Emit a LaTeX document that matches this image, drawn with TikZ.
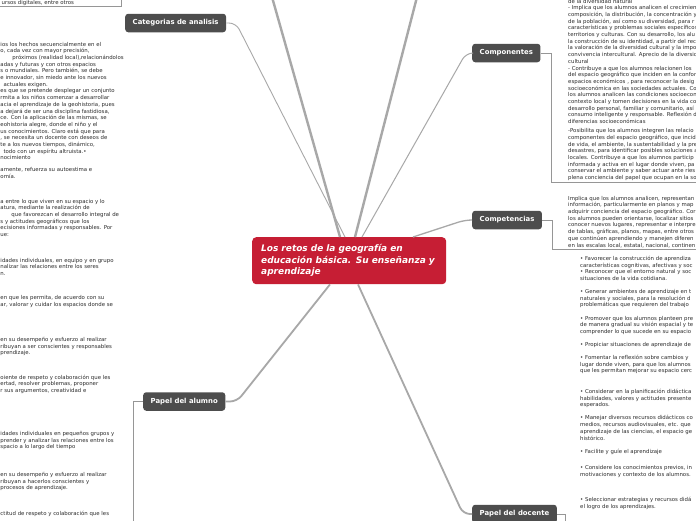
\documentclass[tikz,border=0pt]{standalone}
\usepackage{fontspec}
\setmainfont{DejaVu Sans}
\usetikzlibrary{calc}
\definecolor{centerc}{RGB}{198,30,52}
\definecolor{branchc}{RGB}{77,77,77}
\definecolor{linec}{RGB}{168,168,168}
\definecolor{txtc}{RGB}{45,45,45}
\definecolor{brackc}{RGB}{150,150,150}
\begin{document}
\begin{tikzpicture}[x=1pt,y=-1pt,
 txt/.style={anchor=north west,inner sep=0pt,align=left,text=txtc,font=\fontsize{5.4}{6.7}\selectfont},
 branch/.style={anchor=west,fill=branchc,text=white,rounded corners=3pt,inner xsep=7.5pt,inner ysep=0pt,minimum height=18.5pt,font=\fontsize{6.9}{8}\selectfont\bfseries},
 mainline/.style={draw=linec,line width=2.4pt},
 subline/.style={draw=linec,line width=1.1pt,rounded corners=7pt},
 brack/.style={draw=brackc,line width=0.7pt}]
\useasboundingbox (0,0) rectangle (696,520);
\fill[white] (0,0) rectangle (696,520);
\clip (0,0) rectangle (696,520);

% central node
\node[anchor=north west,fill=centerc,rounded corners=4pt,minimum width=194pt,minimum height=47pt,
  inner xsep=9pt,inner ysep=2pt,text width=176pt,align=left,text=white,
  font=\fontsize{9}{11.5}\selectfont\bfseries\itshape] (ctr) at (252,237)
  {\mbox{Los retos de la geografía en}\\\mbox{educación básica. Su enseñanza y}\\\mbox{aprendizaje}};

% branch nodes
\node[branch] (cat) at (125,23) {Categorias de analisis};
\node[branch] (comp) at (472,53) {Componentes};
\node[branch] (compt) at (472,220) {Competencias};
\node[branch] (alum) at (143,401.5) {Papel del alumno};
\node[branch] (doc) at (472,514) {Papel del docente};

% main connectors
\coordinate (up1) at (272,-3);
\coordinate (up2) at (417,-3);
\draw[mainline] ([xshift=88pt]ctr.north west) -- (up1);
\draw[mainline] ([xshift=103pt]ctr.north west) -- (up2);
\draw[subline,line width=0.9pt] ([xshift=93pt]ctr.north west) -- (236,23) -- (cat.east);
\draw[subline,line width=1pt] ([xshift=110pt]ctr.north west) -- (466,53) -- (comp.west);
\draw[subline,line width=1.3pt] ([xshift=161pt]ctr.north west) -- (465,220) -- (compt.west);
\draw[subline,line width=1.8pt] ([xshift=78pt]ctr.south west) -- (237,401.5) -- (alum.east);
\draw[subline,line width=1.8pt] ([xshift=106pt]ctr.south west) -- (463,514) -- (doc.west);

% text blocks, left
\node[txt] (ltop) at (1.5,-0.6) {\strut ursos digitales, entre otros};
\draw[brack] (-1,6) -- (121,6) -- (121,-1);

\node[txt] (l1) at (0.3,41.2) {\strut ios los hechos secuencialmente en el\\
o, cada vez con mayor precisión,\\
\hspace*{12pt}próximos (realidad local),relacionándolos\\
adas y futuras y con otros espacios\\
s o mundiales. Pero también, se debe\\
e innovador, sin miedo ante los nuevos\\
\hspace*{3pt}actuales exigen.\\
es que se pretende desplegar un conjunto\\
rmita a los niños comenzar a desarrollar\\
acia el aprendizaje de la geohistoria, pues\\
a dejará de ser una disciplina fastidiosa,\\
ce. Con la aplicación de las mismas, se\\
eohistoria alegre, donde el niño y el\\
us conocimientos. Claro está que para\\
, se necesita un docente con deseos de\\
te a los nuevos tiempos, dinámico,\\
\hspace*{3pt}todo con un espíritu altruista.•\\
nocimiento};

\node[txt] (l2) at (0.3,166.7) {\strut amente, refuerza su autoestima e\\
omía.};

\node[txt] (l3) at (0.3,198.2) {\strut a entre lo que viven en su espacio y lo\\
atura, mediante la realización de\\
\hspace*{11pt}que favorezcan el desarrollo integral de\\
s y actitudes geográficos que los\\
ecisiones informadas y responsables. Por\\
ue:};

\node[txt] (l4) at (0.3,257.2) {\strut idades individuales, en equipo y en grupo\\
nalizar las relaciones entre los seres\\
n.};

\node[txt] (l5) at (0.3,294.7) {\strut en que les permita, de acuerdo con su\\
ar, valorar y cuidar los espacios donde se};

\node[txt] (l6) at (0.3,336.7) {\strut en su desempeño y esfuerzo al realizar\\
ribuyan a ser conscientes y responsables\\
prendizaje.};

\node[txt] (l7) at (0.3,374.2) {\strut oiente de respeto y colaboración que les\\
ertad, resolver problemas, proponer\\
r sus argumentos, creatividad e};

\node[txt] (l8) at (0.3,430.7) {\strut idades individuales en pequeños grupos y\\
prender y analizar las relaciones entre los\\
spacio a lo largo del tiempo};

\node[txt] (l9) at (0.3,471.7) {\strut en su desempeño y esfuerzo al realizar\\
ribuyan a hacerlos conscientes y\\
procesos de aprendizaje.};

\node[txt] (l10) at (0.3,510.7) {\strut ctitud de respeto y colaboración que les};

% text blocks, right
\node[txt] (ra) at (568,-1.8) {\strut de la diversidad natural\\
- Implica que los alumnos analicen el crecimien\\
composición, la distribución, la concentración y\\
de la población, así como su diversidad, para r\\
características y problemas sociales específicos\\
territorios y culturas. Con su desarrollo, los alu\\
la construcción de su identidad, a partir del rec\\
la valoración de la diversidad cultural y la impo\\
convivencia intercultural. Aprecio de la diversid\\
cultural\\
- Contribuye a que los alumnos relacionen los\\
del espacio geográfico que inciden en la confor\\
espacios económicos , para reconocer la desig\\
socioeconómica en las sociedades actuales. Co\\
los alumnos analicen las condiciones socioecon\\
contexto local y tomen decisiones en la vida co\\
desarrollo personal, familiar y comunitario, así\\
consumo inteligente y responsable. Reflexión d\\
diferencias socioeconómicas};

\node[txt] (rb) at (568,127.8) {\strut -Posibilita que los alumnos integren las relacio\\
componentes del espacio geográfico, que incid\\
de vida, el ambiente, la sustentabilidad y la pre\\
desastres, para identificar posibles soluciones a\\
locales. Contribuye a que los alumnos particip\\
informada y activa en el lugar donde viven, pa\\
conservar el ambiente y saber actuar ante ries\\
plena conciencia del papel que ocupan en la so};
\coordinate (rbu) at (551,182);
\draw[brack] (comp.east) -- (rbu |- comp.east) -- (rbu) -- (697,182);

\node[txt] (rc) at (568,195.3) {\strut Implica que los alumnos analicen, representan\\
información, particularmente en planos y map\\
adquirir conciencia del espacio geográfico. Cor\\
los alumnos pueden orientarse, localizar sitios\\
conocer nuevos lugares, representar e interpre\\
de tablas, gráficas, planos, mapas, entre otros\\
que continúen aprendiendo y manejen diferen\\
en las escalas local, estatal, nacional, continen};
\coordinate (rcu) at (552,249.5);
\draw[brack] (compt.east) -- (rcu |- compt.east) -- (rcu) -- (697,249.5);

\node[txt] (d1) at (580,255.7) {\strut • Favorecer la construcción de aprendiza\\
características cognitivas, afectivas y soc\\
• Reconocer que el entorno natural y soc\\
situaciones de la vida cotidiana.};
\node[txt] (d2) at (580,288.7) {\strut • Generar ambientes de aprendizaje en t\\
naturales y sociales, para la resolución d\\
problemáticas que requieren del trabajo};
\node[txt] (d3) at (580,315.2) {\strut • Promover que los alumnos planteen pre\\
de manera gradual su visión espacial y te\\
comprender lo que sucede en su espacio};
\node[txt] (d4) at (580,341.7) {\strut • Propiciar situaciones de aprendizaje de};
\node[txt] (d5) at (580,354.7) {\strut • Fomentar la reflexión sobre cambios y\\
lugar donde viven, para que los alumnos\\
que les permitan mejorar su espacio cerc};
\node[txt] (d6) at (580,388.7) {\strut • Considerar en la planificación didáctica\\
habilidades, valores y actitudes presente\\
esperados.};
\node[txt] (d7) at (580,415.1) {\strut • Manejar diversos recursos didácticos co\\
medios, recursos audiovisuales, etc. que\\
aprendizaje de las ciencias, el espacio ge\\
histórico.};
\node[txt] (d8) at (580,448.2) {\strut • Facilite y guíe el aprendizaje};
\node[txt] (d9) at (580,464.7) {\strut • Considere los conocimientos previos, in\\
motivaciones y contexto de los alumnos.};
\node[txt] (d10) at (580,496.7) {\strut • Seleccionar estrategias y recursos didá\\
el logro de los aprendizajes.};

\coordinate (docd) at (565,521);
\draw[brack] (doc.east) -- (docd |- doc.east) -- (docd);
\coordinate (alumd) at (133,521);
\draw[brack] (alum.west) -- (alumd |- alum.west) -- (alumd);
\end{tikzpicture}
\end{document}
